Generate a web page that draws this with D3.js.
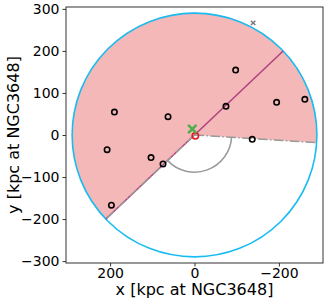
<!DOCTYPE html>
<html>
<head>
<meta charset="utf-8">
<script src="https://cdn.jsdelivr.net/npm/d3@7"></script>
<style>
  body { margin: 0; background: #fff; }
  svg { display: block; font-family: "DejaVu Sans", sans-serif; }
</style>
</head>
<body>
<svg width="327" height="305"></svg>
<script>
// satellites (kpc at NGC3648)
var satX = [189.8, 62.7, -97.5, -74.6, -194.6, -261.5, -136.8, 207.1, 103, 74.6, 196.9];
var satY = [54.6, 43.5, 154.4, 68.2, 77.7, 84.8, -10.2, -34.8, -53.8, -68.9, -167];
var hostX = [5.2], hostY = [14.3];
var centerX = [-2], centerY = [-2];
var farX = [-139], farY = [266.7];
var rVir = 290;
var arcR = 88;
var majorAxisDeg = 136.4;
var wedgeDeg = [-43.6, 183.6];
var xTicks = [200, 0, -200];
var yTicks = [-300, -200, -100, 0, 100, 200, 300];

var svg = d3.select("svg");
var margins = {left: 66, right: 4, top: 7, bottom: 42};
var width = 327 - margins.left - margins.right;
var height = 305 - margins.top - margins.bottom;

var x = d3.scaleLinear().domain([304.5, -304.5]).range([margins.left, margins.left + width]);
var y = d3.scaleLinear().domain([-304.5, 304.5]).range([margins.top + height, margins.top]);
var pxPerUnit = width / 609;
var rad = Math.PI / 180;

var plot = svg.append("g");
var cx = x(0), cy = y(0);

// shaded wedge (data angle theta -> d3 angle theta - 90 since x is reversed)
var wedge = d3.arc()
  .innerRadius(0)
  .outerRadius(rVir * pxPerUnit)
  .startAngle((wedgeDeg[0] - 90) * rad)
  .endAngle((wedgeDeg[1] - 90) * rad);
plot.append("path")
  .attr("transform", "translate(" + cx + "," + cy + ")")
  .attr("d", wedge())
  .attr("fill", "#f4b8b8");

// virial circle
plot.append("ellipse")
  .attr("cx", cx).attr("cy", cy)
  .attr("rx", x(0) - x(rVir))
  .attr("ry", y(0) - y(rVir))
  .attr("fill", "none")
  .attr("stroke", "#18bcf2")
  .attr("stroke-width", 1.6);

// major axis
var a = majorAxisDeg * rad;
plot.append("line")
  .attr("x1", x(rVir * Math.cos(a))).attr("y1", y(rVir * Math.sin(a)))
  .attr("x2", x(-rVir * Math.cos(a))).attr("y2", y(-rVir * Math.sin(a)))
  .attr("stroke", "#b0407f")
  .attr("stroke-width", 1.5);

// wedge edges
wedgeDeg.forEach(function(d) {
  plot.append("line")
    .attr("x1", cx).attr("y1", cy)
    .attr("x2", x(rVir * Math.cos(d * rad))).attr("y2", y(rVir * Math.sin(d * rad)))
    .attr("stroke", "#999")
    .attr("stroke-width", 1.5)
    .attr("stroke-dasharray", "9.6,2.4,1.5,2.4");
});

// opening angle arc, screen angle = data angle + 180 (x reversed, y down)
var p = d3.path();
p.arc(cx, cy, arcR * pxPerUnit, (wedgeDeg[1] + 180) * rad, (wedgeDeg[0] + 540) * rad, false);
plot.append("path")
  .attr("d", p.toString())
  .attr("fill", "none")
  .attr("stroke", "#999")
  .attr("stroke-width", 1.5);

// satellites
plot.selectAll(".sat")
  .data(satX)
  .enter()
  .append("circle")
  .attr("class", "sat")
  .attr("cx", function(d) { return x(d); })
  .attr("cy", function(d, i) { return y(satY[i]); })
  .attr("r", 2.7)
  .attr("fill", "none")
  .attr("stroke", "#000")
  .attr("stroke-width", 1.6);

// center
plot.append("circle")
  .attr("cx", x(centerX[0])).attr("cy", y(centerY[0]))
  .attr("r", 3.2)
  .attr("fill", "none")
  .attr("stroke", "#e8141c")
  .attr("stroke-width", 1.5);

var cross = function(px, py, s, color, w) {
  plot.append("path")
    .attr("d", "M" + (px - s) + "," + (py - s) + "L" + (px + s) + "," + (py + s) +
               "M" + (px - s) + "," + (py + s) + "L" + (px + s) + "," + (py - s))
    .attr("stroke", color)
    .attr("stroke-width", w);
};
cross(x(hostX[0]), y(hostY[0]), 4.2, "#4caf4c", 2.5);
cross(x(farX[0]), y(farY[0]), 2.2, "#777", 1.4);

// frame
svg.append("rect")
  .attr("x", margins.left).attr("y", margins.top)
  .attr("width", width).attr("height", height)
  .attr("fill", "none")
  .attr("stroke", "#333")
  .attr("stroke-width", 1);

var xAxis = svg.append("g")
  .attr("transform", "translate(0," + (margins.top + height) + ")")
  .call(d3.axisBottom(x).tickValues(xTicks).tickSize(3.5).tickPadding(2));
var yAxis = svg.append("g")
  .attr("transform", "translate(" + margins.left + ",0)")
  .call(d3.axisLeft(y).tickValues(yTicks).tickSize(3.5).tickPadding(3));

[xAxis, yAxis].forEach(function(g) {
  g.select(".domain").remove();
  g.selectAll("line").attr("stroke", "#333");
  g.selectAll("text")
    .attr("font-family", "DejaVu Sans")
    .attr("font-size", 14)
    .attr("fill", "#000");
});

svg.append("text")
  .attr("x", margins.left + width / 2)
  .attr("y", 295)
  .attr("text-anchor", "middle")
  .attr("font-size", 16)
  .text("x [kpc at NGC3648]");

svg.append("text")
  .attr("transform", "translate(19," + (margins.top + height / 2) + ") rotate(-90)")
  .attr("text-anchor", "middle")
  .attr("font-size", 16)
  .text("y [kpc at NGC3648]");
</script>
</body>
</html>
